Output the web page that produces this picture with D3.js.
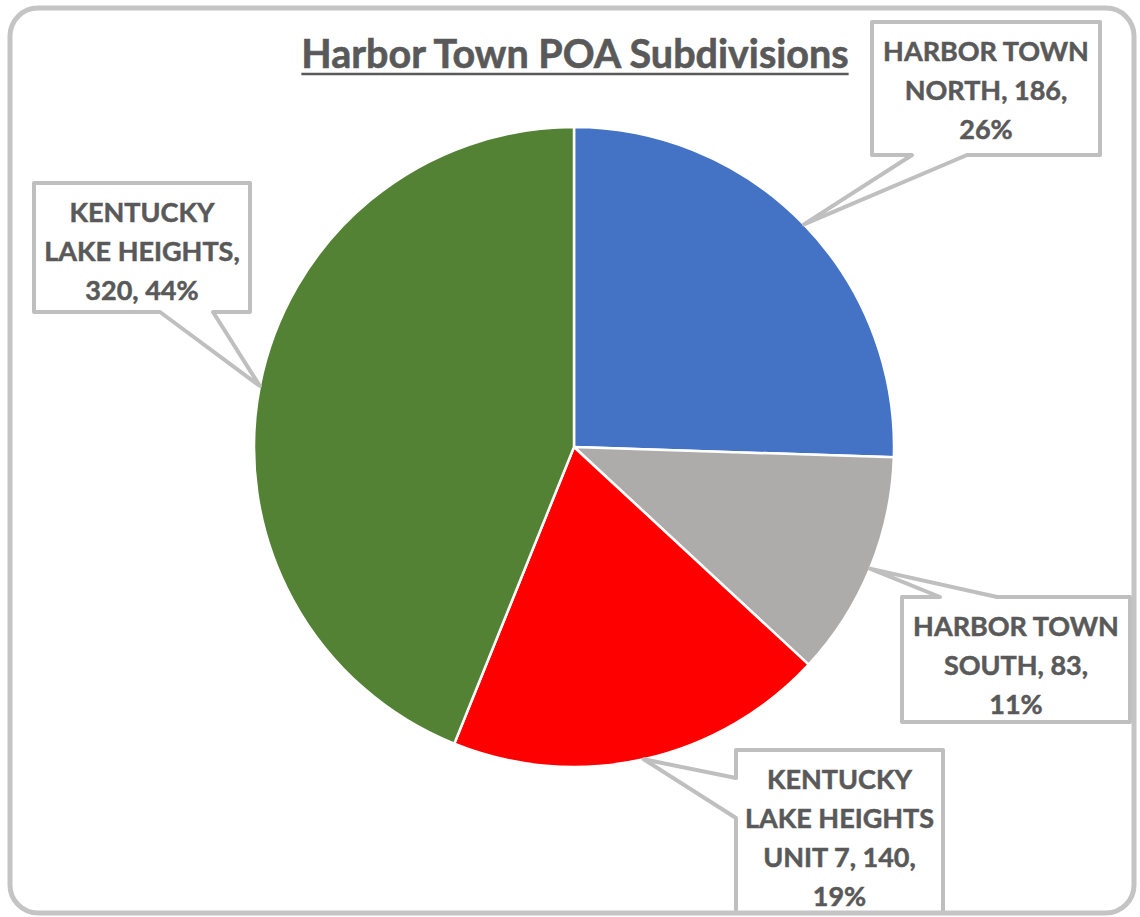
<!DOCTYPE html>
<html>
  <head>
    <meta charset="utf-8" />
    <style>
      body { margin: 0; background: #fff; }
      svg { display: block; }
    </style>
  </head>
  <body>
    <script src="https://d3js.org/d3.v7.min.js"></script>
    <div id="main"></div>
    <script>
      // data
      const categories = [
        "HARBOR TOWN NORTH",
        "HARBOR TOWN SOUTH",
        "KENTUCKY LAKE HEIGHTS UNIT 7",
        "KENTUCKY LAKE HEIGHTS",
      ];
      const values = [186, 83, 140, 320];
      const colors = ["#4472C4", "#AEABAB", "#FF0000", "#548235"];
      const title = "Harbor Town POA Subdivisions";
      // how many words of each label go on each line (as wrapped in the original)
      const wordsPerLine = [[2, 2, 1], [2, 2, 1], [1, 2, 3, 1], [1, 2, 2]];

      // callout boxes (layout only): box, side the tail leaves from, tail base
      const callouts = [
        { x: 872, y: 22, w: 228, h: 133, side: "bottom", b1: 912, b2: 967 },
        { x: 902, y: 597, w: 228, h: 125, side: "top", b1: 940, b2: 997 },
        { x: 736, y: 750, w: 207, h: 175, side: "left", b1: 778, b2: 818 },
        { x: 34, y: 183, w: 216, h: 129, side: "bottom", b1: 160, b2: 213 },
      ];

      const W = 1140, H = 917;
      const cx = 574, cy = 447, R = 320;
      const textColor = "#595959";
      const font = "Lato, 'Open Sans', sans-serif";

      const svg = d3
        .select("#main")
        .append("svg")
        .attr("width", W)
        .attr("height", H);

      svg
        .append("defs")
        .append("clipPath")
        .attr("id", "chartClip")
        .append("rect")
        .attr("x", 12)
        .attr("y", 10)
        .attr("width", 1120)
        .attr("height", 901)
        .attr("rx", 26);

      // title
      const titleText = svg
        .append("text")
        .attr("x", 575)
        .attr("y", 68)
        .attr("text-anchor", "middle")
        .attr("fill", textColor)
        .attr("stroke", textColor)
        .attr("stroke-width", 0.6)
        .style("font-family", font)
        .style("font-weight", "bold")
        .style("font-size", "39.5px")
        .text(title);
      const tw = titleText.node().getComputedTextLength();
      svg
        .append("line")
        .attr("x1", 575 - tw / 2)
        .attr("x2", 575 + tw / 2)
        .attr("y1", 74)
        .attr("y2", 74)
        .attr("stroke", textColor)
        .attr("stroke-width", 2.5);

      // pie
      const total = d3.sum(values);
      const pie = d3.pie().sort(null)(values);
      const arc = d3.arc().innerRadius(0).outerRadius(R);
      const edge = d3.arc().innerRadius(R).outerRadius(R);

      const g = svg.append("g").attr("transform", `translate(${cx},${cy})`);
      g.selectAll("path")
        .data(pie)
        .join("path")
        .attr("d", arc)
        .attr("fill", (d, i) => colors[i])
        .attr("stroke", "#fff")
        .attr("stroke-width", 2.5)
        .attr("stroke-linejoin", "round");

      // callouts
      const cg = svg.append("g").attr("clip-path", "url(#chartClip)");

      function calloutPath(c, tip) {
        const x0 = c.x, x1 = c.x + c.w, y0 = c.y, y1 = c.y + c.h;
        const [tx, ty] = tip;
        let p;
        if (c.side === "bottom") {
          p = [[x0, y0], [x1, y0], [x1, y1], [c.b2, y1], [tx, ty], [c.b1, y1], [x0, y1]];
        } else if (c.side === "top") {
          p = [[x0, y0], [c.b1, y0], [tx, ty], [c.b2, y0], [x1, y0], [x1, y1], [x0, y1]];
        } else {
          p = [[x0, y0], [x1, y0], [x1, y1], [x0, y1], [x0, c.b2], [tx, ty], [x0, c.b1]];
        }
        return "M" + p.map((q) => q.join(",")).join("L") + "Z";
      }

      pie.forEach((d, i) => {
        const c = callouts[i];
        const [ex, ey] = edge.centroid(d);
        const tip = [cx + ex, cy + ey];
        cg.append("path")
          .attr("d", calloutPath(c, tip))
          .attr("fill", "#fff")
          .attr("stroke", "#BFBFBF")
          .attr("stroke-width", 4)
          .attr("stroke-linejoin", "round");

        const pct = Math.round((values[i] / total) * 100);
        const words = `${categories[i]}, ${values[i]}, ${pct}%`.split(" ");
        const lines = [];
        let k0 = 0;
        wordsPerLine[i].forEach((n) => {
          lines.push(words.slice(k0, k0 + n).join(" "));
          k0 += n;
        });

        const t = cg
          .append("text")
          .attr("text-anchor", "middle")
          .attr("fill", textColor)
          .attr("stroke", textColor)
          .attr("stroke-width", 0.5)
          .style("font-family", font)
          .style("font-weight", "bold")
          .style("font-size", "27px");
        lines.forEach((line, k) => {
          t.append("tspan")
            .attr("x", c.x + c.w / 2)
            .attr("y", c.y + 29 + k * 39)
            .attr("dy", "0.36em")
            .text(line);
        });
      });

      // chart border
      svg
        .append("rect")
        .attr("x", 10)
        .attr("y", 8)
        .attr("width", 1124)
        .attr("height", 905)
        .attr("rx", 28)
        .attr("fill", "none")
        .attr("stroke", "#C4C4C4")
        .attr("stroke-width", 5);
    </script>
  </body>
</html>
